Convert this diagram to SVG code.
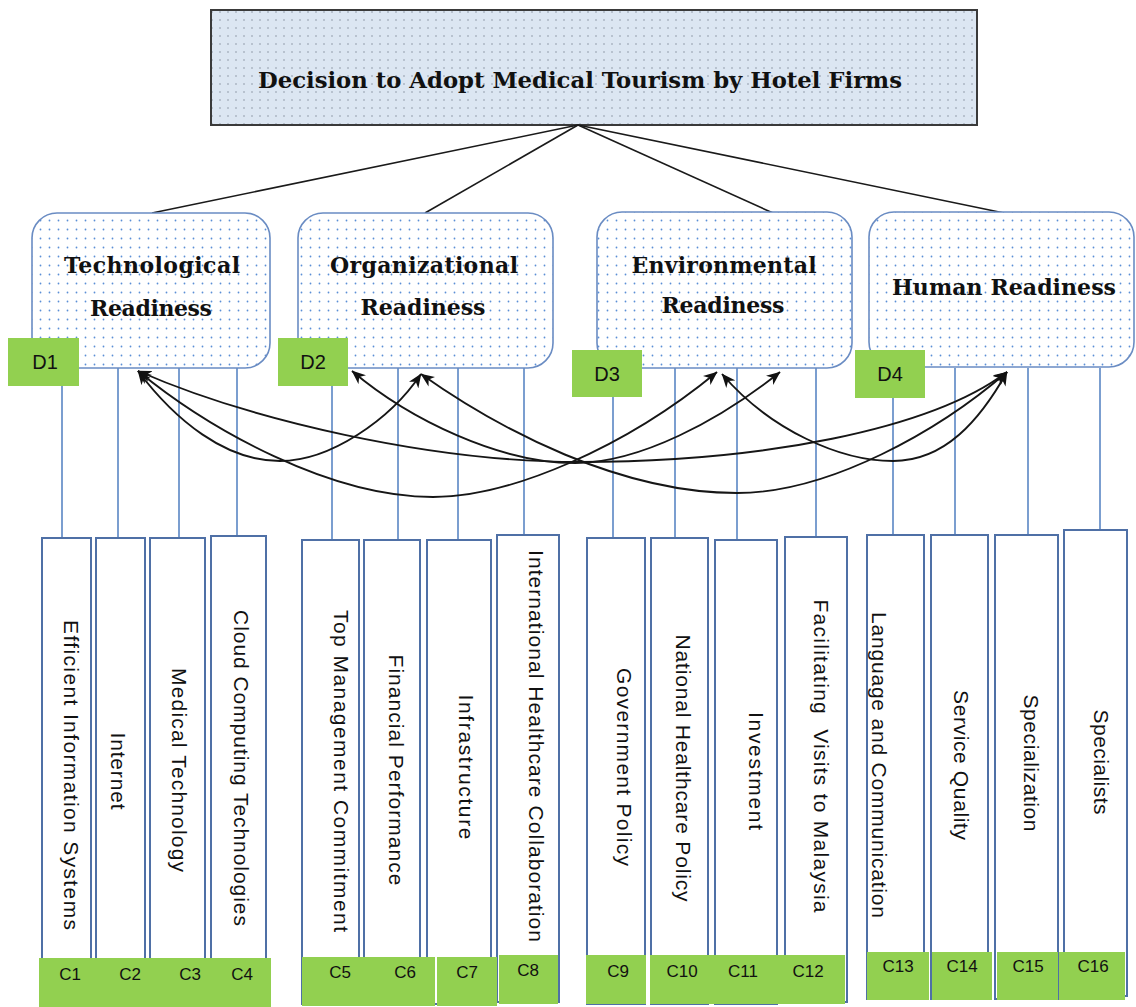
<svg xmlns="http://www.w3.org/2000/svg" width="1136" height="1007" viewBox="0 0 1136 1007">
  <style>
    .title { font-family: "DejaVu Serif", "Liberation Serif", serif; font-weight: bold; font-size: 22px; fill: #111; text-anchor: middle; }
    .dim { fill: url(#dotsBlue); stroke: #6a8cc3; stroke-width: 1.6; }
    .tag { fill: #92d050; }
    .tagtxt { font-family: "Liberation Sans", Arial, sans-serif; font-size: 20px; fill: #111; text-anchor: middle; }
    .ctxt { font-family: "Liberation Sans", Arial, sans-serif; font-size: 17px; fill: #111; text-anchor: middle; }
    .crit { fill: #fff; stroke: #4f70a6; stroke-width: 2; }
    .vtxt { font-family: "Liberation Sans", Arial, sans-serif; font-size: 21px; fill: #111; text-anchor: middle; }
    .tree { stroke: #1a1a1a; stroke-width: 1.6; fill: none; }
    .drop { stroke: #5a86c4; stroke-width: 1.6; fill: none; }
    .link { stroke: #161616; stroke-width: 1.9; fill: none; marker-start: url(#arr); marker-end: url(#arr); }
  </style>
  <defs>
    <pattern id="dotsGray" width="8" height="8" patternUnits="userSpaceOnUse">
      <rect width="8" height="8" fill="#dce6f2"/>
      <circle cx="4" cy="4" r="0.8" fill="#8a94a2"/>
    </pattern>
    <pattern id="dotsBlue" width="9" height="9" patternUnits="userSpaceOnUse">
      <rect width="9" height="9" fill="#ffffff"/>
      <circle cx="4.5" cy="4.5" r="0.9" fill="#5b8fd6"/>
    </pattern>
    <marker id="arr" viewBox="0 0 12 10" refX="11.5" refY="5" markerWidth="14" markerHeight="12" markerUnits="userSpaceOnUse" orient="auto-start-reverse">
      <path d="M0,0 L12,5 L0,10 L3.5,5 z" fill="#111"/>
    </marker>
  </defs>

  <rect width="1136" height="1007" fill="#ffffff"/>

  <!-- goal -->
  <g id="goal">
    <rect x="211" y="10" width="766" height="115" fill="url(#dotsGray)" stroke="#3a3a3a" stroke-width="2"/>
    <text class="title" x="580" y="88" textLength="644" lengthAdjust="spacingAndGlyphs">Decision to Adopt Medical Tourism by Hotel Firms</text>
  </g>

  <!-- tree lines from goal to dimensions, drops to criteria -->
  <g id="connectors">
    <g id="tree-lines">
      <line class="tree" x1="578" y1="125" x2="152" y2="213"/>
      <line class="tree" x1="578" y1="125" x2="425" y2="213"/>
      <line class="tree" x1="578" y1="125" x2="773" y2="213"/>
      <line class="tree" x1="578" y1="125" x2="1004" y2="213"/>
    </g>
    <g id="drops">
      <line class="drop" x1="62" y1="386" x2="62" y2="538"/>
      <line class="drop" x1="118" y1="368" x2="118" y2="541"/>
      <line class="drop" x1="179" y1="368" x2="179" y2="538"/>
      <line class="drop" x1="237" y1="368" x2="237" y2="536"/>
      <line class="drop" x1="332" y1="386" x2="332" y2="540"/>
      <line class="drop" x1="398" y1="368" x2="398" y2="540"/>
      <line class="drop" x1="458" y1="368" x2="458" y2="540"/>
      <line class="drop" x1="524" y1="368" x2="524" y2="535"/>
      <line class="drop" x1="613" y1="397" x2="613" y2="538"/>
      <line class="drop" x1="675" y1="368" x2="675" y2="538"/>
      <line class="drop" x1="737" y1="368" x2="737" y2="540"/>
      <line class="drop" x1="816" y1="368" x2="816" y2="537"/>
      <line class="drop" x1="893" y1="398" x2="893" y2="535"/>
      <line class="drop" x1="955" y1="368" x2="955" y2="535"/>
      <line class="drop" x1="1028" y1="368" x2="1028" y2="535"/>
      <line class="drop" x1="1100" y1="368" x2="1100" y2="530"/>
    </g>
  </g>

  <!-- dimensions -->
  <g id="dim-technological">
    <rect class="dim" x="32" y="213" width="238" height="155" rx="25"/>
    <text class="title" x="152" y="273" textLength="176">Technological</text>
    <text class="title" x="151" y="316" textLength="122">Readiness</text>
  </g>
  <g id="dim-organizational">
    <rect class="dim" x="298" y="213" width="255" height="155" rx="25"/>
    <text class="title" x="424" y="273" textLength="188">Organizational</text>
    <text class="title" x="423" y="315" textLength="125">Readiness</text>
  </g>
  <g id="dim-environmental">
    <rect class="dim" x="597" y="212" width="255" height="156" rx="25"/>
    <text class="title" x="724" y="273" textLength="185">Environmental</text>
    <text class="title" x="723" y="313" textLength="123">Readiness</text>
  </g>
  <g id="dim-human">
    <rect class="dim" x="869" y="212" width="265" height="155" rx="25"/>
    <text class="title" x="1004" y="295" textLength="224">Human Readiness</text>
  </g>

  <!-- dimension tags -->
  <g id="tag-d1">
    <rect class="tag" x="8" y="338" width="71" height="48"/>
    <text class="tagtxt" x="45" y="369">D1</text>
  </g>
  <g id="tag-d2">
    <rect class="tag" x="278" y="338" width="70" height="48"/>
    <text class="tagtxt" x="313" y="369">D2</text>
  </g>
  <g id="tag-d3">
    <rect class="tag" x="572" y="350" width="70" height="47"/>
    <text class="tagtxt" x="607" y="381">D3</text>
  </g>
  <g id="tag-d4">
    <rect class="tag" x="855" y="350" width="70" height="48"/>
    <text class="tagtxt" x="890" y="381">D4</text>
  </g>

  <!-- two-way links between dimensions -->
  <g id="links">
    <path class="link" d="M138,371 C175,420 225,461 280,461 C330,461 390,420 421,374"/>
    <path class="link" d="M138,371 C210,430 330,497 433,497 C510,497 625,448 717,372"/>
    <path class="link" d="M138,371 C250,420 430,462 580,462 C760,462 930,430 1007,372"/>
    <path class="link" d="M352,371 C410,420 500,463 575,463 C640,463 720,420 780,372"/>
    <path class="link" d="M421,374 C500,430 620,493 737,493 C830,493 940,430 1007,372"/>
    <path class="link" d="M722,374 C770,430 840,461 893,461 C945,461 980,420 1007,372"/>
  </g>

  <!-- criteria -->
  <g id="c1"><rect class="crit" x="42" y="538" width="49" height="467"/>
    <text class="vtxt" transform="translate(71,775) rotate(90)" dy="0.35em" textLength="310">Efficient Information Systems</text></g>
  <g id="c2"><rect class="crit" x="96" y="538" width="49" height="467"/>
    <text class="vtxt" transform="translate(118,771) rotate(90)" dy="0.35em" textLength="77">Internet</text></g>
  <g id="c3"><rect class="crit" x="150" y="538" width="55" height="467"/>
    <text class="vtxt" transform="translate(179,770) rotate(90)" dy="0.35em" textLength="204">Medical Technology</text></g>
  <g id="c4"><rect class="crit" x="211" y="536" width="55" height="469"/>
    <text class="vtxt" transform="translate(241,768) rotate(90)" dy="0.35em" textLength="316">Cloud Computing Technologies</text></g>
  <g id="c5"><rect class="crit" x="302" y="540" width="57" height="464"/>
    <text class="vtxt" transform="translate(341,771) rotate(90)" dy="0.35em" textLength="322">Top Management Commitment</text></g>
  <g id="c6"><rect class="crit" x="364" y="540" width="56" height="464"/>
    <text class="vtxt" transform="translate(396,770) rotate(90)" dy="0.35em" textLength="231">Financial Performance</text></g>
  <g id="c7"><rect class="crit" x="427" y="540" width="64" height="464"/>
    <text class="vtxt" transform="translate(466,767) rotate(90)" dy="0.35em" textLength="145">Infrastructure</text></g>
  <g id="c8"><rect class="crit" x="497" y="535" width="62" height="467"/>
    <text class="vtxt" transform="translate(536,746) rotate(90)" dy="0.35em" textLength="392">International Healthcare Collaboration</text></g>
  <g id="c9"><rect class="crit" x="587" y="538" width="58" height="466"/>
    <text class="vtxt" transform="translate(624,767) rotate(90)" dy="0.35em" textLength="198">Government Policy</text></g>
  <g id="c10"><rect class="crit" x="651" y="538" width="57" height="466"/>
    <text class="vtxt" transform="translate(683,768) rotate(90)" dy="0.35em" textLength="267">National Healthcare Policy</text></g>
  <g id="c11"><rect class="crit" x="715" y="540" width="62" height="464"/>
    <text class="vtxt" transform="translate(756,771) rotate(90)" dy="0.35em" textLength="118">Investment</text></g>
  <g id="c12"><rect class="crit" x="785" y="537" width="62" height="465"/>
    <text class="vtxt" transform="translate(821,756) rotate(90)" dy="0.35em" textLength="313" style="white-space:pre">Facilitating  Visits to Malaysia</text></g>
  <g id="c13"><rect class="crit" x="867" y="535" width="57" height="464"/>
    <text class="vtxt" transform="translate(879,765) rotate(90)" dy="0.35em" textLength="306">Language and Communication</text></g>
  <g id="c14"><rect class="crit" x="931" y="535" width="57" height="464"/>
    <text class="vtxt" transform="translate(961,765) rotate(90)" dy="0.35em" textLength="150">Service Quality</text></g>
  <g id="c15"><rect class="crit" x="995" y="535" width="63" height="464"/>
    <text class="vtxt" transform="translate(1031,763) rotate(90)" dy="0.35em" textLength="137">Specialization</text></g>
  <g id="c16"><rect class="crit" x="1064" y="530" width="63" height="466"/>
    <text class="vtxt" transform="translate(1101,762) rotate(90)" dy="0.35em" textLength="105">Specialists</text></g>

  <!-- criterion tags -->
  <g id="tags-c">
    <rect class="tag" x="39" y="958" width="232" height="49"/>
    <rect class="tag" x="302" y="957" width="133" height="49"/>
    <rect class="tag" x="437" y="957" width="60" height="49"/>
    <rect class="tag" x="499" y="955" width="59" height="49"/>
    <rect class="tag" x="586" y="955" width="60" height="49"/>
    <rect class="tag" x="650" y="955" width="195" height="49"/>
    <rect class="tag" x="867" y="952" width="62" height="48"/>
    <rect class="tag" x="932" y="952" width="60" height="48"/>
    <rect class="tag" x="997" y="952" width="61" height="48"/>
    <rect class="tag" x="1059" y="952" width="66" height="48"/>
    <text class="ctxt" x="70" y="980">C1</text>
    <text class="ctxt" x="130" y="980">C2</text>
    <text class="ctxt" x="190" y="980">C3</text>
    <text class="ctxt" x="242" y="980">C4</text>
    <text class="ctxt" x="340" y="978">C5</text>
    <text class="ctxt" x="405" y="978">C6</text>
    <text class="ctxt" x="467" y="978">C7</text>
    <text class="ctxt" x="528" y="976">C8</text>
    <text class="ctxt" x="618" y="977">C9</text>
    <text class="ctxt" x="682" y="977">C10</text>
    <text class="ctxt" x="743" y="977">C11</text>
    <text class="ctxt" x="808" y="977">C12</text>
    <text class="ctxt" x="898" y="972">C13</text>
    <text class="ctxt" x="962" y="972">C14</text>
    <text class="ctxt" x="1028" y="972">C15</text>
    <text class="ctxt" x="1093" y="972">C16</text>
  </g>
</svg>
